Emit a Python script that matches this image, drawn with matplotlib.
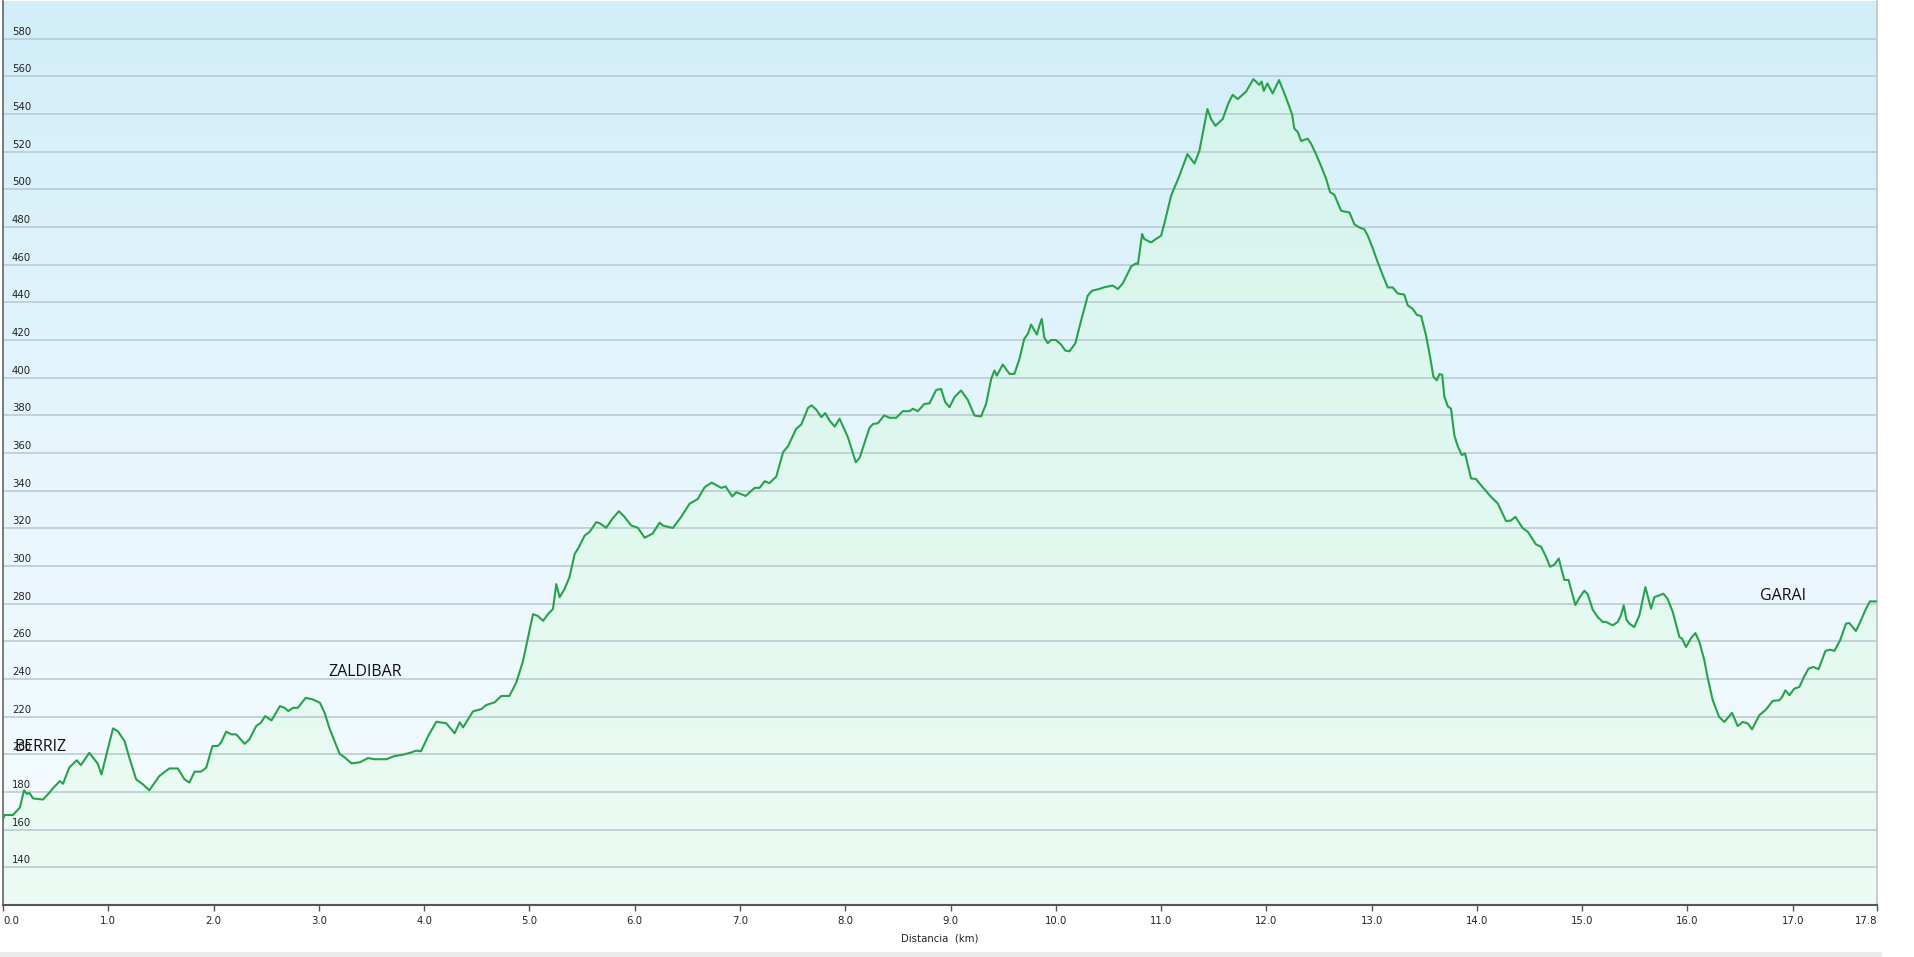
import numpy as np
import matplotlib.pyplot as plt
from matplotlib.colors import LinearSegmentedColormap
from matplotlib.patches import Polygon, Rectangle
from matplotlib.transforms import offset_copy

# perfil de elevación (km, m)
dist_km = [
    0.0, 0.015, 0.095, 0.16, 0.20, 0.225, 0.25, 0.285, 0.38, 0.44, 0.475, 0.54, 0.57,
    0.63, 0.70, 0.74, 0.82, 0.90, 0.935, 0.975, 1.045, 1.09, 1.155, 1.20, 1.265, 1.33,
    1.39, 1.485, 1.58, 1.66, 1.725, 1.77, 1.82, 1.88, 1.93, 1.99, 2.04, 2.07, 2.12,
    2.17, 2.215, 2.295, 2.34, 2.405, 2.45, 2.49, 2.55, 2.63, 2.675, 2.71, 2.755, 2.80,
    2.875, 2.945, 3.01, 3.055, 3.10, 3.135, 3.198, 3.245, 3.31, 3.39, 3.467, 3.53,
    3.64, 3.72, 3.80, 3.878, 3.925, 3.97, 4.04, 4.116, 4.21, 4.29, 4.338, 4.37, 4.464,
    4.543, 4.59, 4.67, 4.733, 4.81, 4.876, 4.94, 4.987, 5.034, 5.08, 5.13, 5.176,
    5.224, 5.255, 5.287, 5.334, 5.38, 5.43, 5.47, 5.525, 5.57, 5.635, 5.667, 5.73,
    5.787, 5.85, 5.90, 5.967, 6.03, 6.095, 6.17, 6.237, 6.27, 6.363, 6.443, 6.52,
    6.60, 6.664, 6.73, 6.823, 6.864, 6.927, 6.965, 7.054, 7.14, 7.187, 7.234, 7.28,
    7.345, 7.41, 7.455, 7.535, 7.583, 7.647, 7.68, 7.725, 7.773, 7.81, 7.85, 7.90,
    7.946, 8.025, 8.10, 8.136, 8.23, 8.264, 8.31, 8.37, 8.42, 8.484, 8.547, 8.61,
    8.643, 8.69, 8.75, 8.80, 8.864, 8.91, 8.95, 8.99, 9.037, 9.10, 9.164, 9.227,
    9.29, 9.338, 9.386, 9.417, 9.44, 9.496, 9.56, 9.607, 9.655, 9.70, 9.734, 9.765,
    9.82, 9.844, 9.867, 9.89, 9.924, 9.955, 10.0, 10.05, 10.09, 10.13, 10.186, 10.24,
    10.304, 10.345, 10.414, 10.46, 10.54, 10.59, 10.637, 10.716, 10.763, 10.78, 10.82,
    10.84, 10.905, 10.95, 11.0, 11.03, 11.095, 11.174, 11.25, 11.317, 11.364, 11.41,
    11.44, 11.475, 11.516, 11.585, 11.642, 11.68, 11.728, 11.807, 11.876, 11.933,
    11.955, 11.975, 12.01, 12.06, 12.12, 12.17, 12.22, 12.244, 12.266, 12.30, 12.33,
    12.35, 12.393, 12.425, 12.472, 12.52, 12.567, 12.605, 12.646, 12.71, 12.79,
    12.836, 12.884, 12.93, 12.963, 13.01, 13.058, 13.105, 13.153, 13.20, 13.248,
    13.31, 13.343, 13.39, 13.43, 13.47, 13.517, 13.555, 13.587, 13.618, 13.644, 13.67,
    13.69, 13.723, 13.754, 13.786, 13.818, 13.856, 13.887, 13.944, 13.99, 14.055,
    14.134, 14.197, 14.277, 14.324, 14.365, 14.435, 14.483, 14.56, 14.61, 14.656,
    14.694, 14.736, 14.777, 14.83, 14.87, 14.935, 14.973, 15.02, 15.052, 15.10,
    15.147, 15.195, 15.226, 15.29, 15.337, 15.368, 15.394, 15.42, 15.448, 15.495,
    15.543, 15.60, 15.654, 15.685, 15.733, 15.77, 15.81, 15.86, 15.923, 15.948,
    15.986, 16.03, 16.075, 16.113, 16.16, 16.19, 16.24, 16.30, 16.35, 16.423, 16.477,
    16.524, 16.572, 16.613, 16.683, 16.746, 16.81, 16.872, 16.90, 16.93, 16.968,
    17.015, 17.063, 17.11, 17.15, 17.195, 17.245, 17.31, 17.353, 17.395, 17.45,
    17.505, 17.537, 17.60, 17.648, 17.695, 17.733, 17.80,
]
elev_m = [
    165.5, 167.8, 167.8, 171.7, 180.9, 179.0, 179.6, 176.6, 176.0, 179.6, 182.0, 185.8, 184.4,
    193.0, 196.8, 194.3, 200.8, 195.0, 189.3, 198.2, 213.8, 212.3, 207.0, 198.2, 186.7, 184.0,
    180.9, 188.5, 192.5, 192.5, 186.7, 185.0, 190.8, 190.8, 192.9, 204.4, 204.4, 206.2, 212.0,
    210.6, 210.6, 205.6, 207.9, 215.0, 216.8, 220.3, 218.0, 225.6, 224.7, 223.0, 224.7, 224.7,
    230.0, 229.1, 227.4, 222.0, 214.0, 209.0, 200.2, 198.4, 195.2, 195.8, 198.0, 197.4,
    197.4, 199.1, 199.8, 201.0, 202.0, 201.6, 209.9, 217.3, 216.5, 211.2, 217.0, 214.3, 222.8,
    224.0, 226.2, 227.6, 231.0, 231.0, 238.2, 249.7, 262.0, 274.4, 273.5, 270.9, 274.4,
    277.2, 290.4, 283.4, 287.8, 294.0, 306.4, 310.0, 316.2, 318.0, 323.3, 322.7, 320.3,
    325.0, 329.1, 326.3, 321.5, 320.3, 315.0, 317.2, 323.0, 321.4, 320.2, 326.2, 333.0,
    335.6, 341.8, 344.3, 341.5, 342.2, 336.9, 339.2, 337.2, 341.5, 341.5, 345.0, 344.0,
    347.5, 360.5, 363.5, 372.9, 375.2, 384.0, 385.3, 383.0, 379.0, 381.2, 377.3, 374.0,
    378.2, 368.4, 355.1, 357.4, 373.3, 375.4, 375.8, 380.0, 378.7, 378.7, 382.2, 382.2,
    383.5, 382.2, 386.0, 386.4, 393.5, 394.0, 387.0, 384.3, 389.6, 393.2, 388.2, 379.9,
    379.4, 386.1, 399.3, 403.8, 401.1, 407.0, 402.0, 402.0, 410.0, 420.6, 423.2, 428.2,
    422.9, 427.6, 431.2, 421.4, 418.3, 420.0, 420.0, 417.6, 414.4, 414.0, 418.3, 430.3,
    443.6, 446.2, 447.1, 448.0, 448.9, 447.1, 450.1, 459.1, 460.7, 460.3, 476.3,
    473.6, 471.8, 473.6, 475.4, 481.6, 496.6, 507.2, 518.7, 513.7, 520.5, 533.7,
    542.6, 537.3, 533.7, 537.3, 546.1, 550.2, 547.9, 551.9, 558.5, 555.5,
    557.2, 552.3, 556.2, 550.9, 558.0, 551.1, 543.6, 539.8, 532.2, 530.3, 525.6,
    526.1, 526.9, 524.2, 518.6, 512.3, 505.7, 498.5, 497.1, 488.6, 487.7,
    481.4, 479.7, 478.8, 475.4, 468.8, 461.2, 454.5, 447.9, 447.9, 444.7,
    444.1, 438.4, 436.5, 433.3, 432.7, 422.3, 411.0, 400.5, 398.6, 401.9, 401.5,
    390.1, 384.8, 383.5, 369.3, 363.6, 358.9, 359.8, 346.5, 346.2, 341.8,
    336.7, 333.3, 323.8, 324.2, 326.1, 320.1, 318.2, 311.5, 310.2, 304.9,
    299.6, 300.7, 304.0, 292.6, 292.6, 279.3, 283.1, 286.9, 285.0, 276.8,
    272.9, 270.3, 270.3, 268.5, 270.3, 273.8, 279.1, 271.5, 269.4, 267.6,
    273.8, 288.8, 277.3, 283.5, 284.4, 285.3, 282.7, 275.6, 262.3, 261.4,
    257.0, 261.4, 264.4, 259.7, 250.0, 241.1, 228.7, 219.9, 217.2, 222.0, 215.0,
    217.2, 216.4, 213.3, 220.8, 223.8, 228.4, 228.7, 230.5, 234.0, 231.4,
    234.9, 235.8, 241.5, 245.5, 246.4, 245.2, 254.9, 255.6, 254.9, 260.6,
    269.4, 269.7, 265.5, 271.2, 277.3, 281.2, 281.2,
]

y_ticks = list(range(140, 600, 20))
x_ticks = list(range(0, 18)) + [17.8]
x_tick_labels = [f"{t:.1f}" for t in x_ticks]

place_names = ["BERRIZ", "ZALDIBAR", "GARAI"]
place_km = [0.11, 3.09, 16.69]
place_elev = [201.8, 241.6, 281.8]

x_min, x_max = 0, 17.8
y_min, y_max = 120, 600

W, H = 1914, 957
fig = plt.figure(figsize=(W / 100, H / 100), dpi=100)
fig.patch.set_facecolor("white")
ax = fig.add_axes([3 / W, 1 - 905 / H, (1877 - 3) / W, 904 / H])

# fondo degradado azul -> blanco
grad = np.linspace(0, 1, 256).reshape(-1, 1)
bg_cmap = LinearSegmentedColormap.from_list("bg", ["#f7fcfe", "#e6f6fc", "#d1eef9"])
ax.imshow(grad, extent=[x_min, x_max, y_min, y_max], origin="lower",
          aspect="auto", cmap=bg_cmap, zorder=0)

# relleno bajo la curva (degradado verde menta)
fill_cmap = LinearSegmentedColormap.from_list("fill", ["#ecfbf3", "#dff8ef", "#d2f3ec"])
im = ax.imshow(grad, extent=[x_min, x_max, y_min, y_max], origin="lower",
               aspect="auto", cmap=fill_cmap, zorder=1)
verts = np.column_stack([np.r_[dist_km[0], dist_km, dist_km[-1]],
                         np.r_[y_min, elev_m, y_min]])
poly = Polygon(verts, closed=True, facecolor="none", edgecolor="none",
               transform=ax.transData)
ax.add_patch(poly)
im.set_clip_path(poly)

ax.plot(dist_km, elev_m, color="#27a24b", lw=1.5, zorder=3, solid_joinstyle="round")

ax.set_xlim(x_min, x_max)
ax.set_ylim(y_min, y_max)

# rejilla horizontal
ax.set_yticks(y_ticks)
ax.yaxis.grid(True, color="#b7c8d0", linewidth=1.1)
ax.tick_params(axis="y", left=False, labelleft=False)

# etiquetas del eje Y dentro del gráfico
ylab_tr = offset_copy(ax.get_yaxis_transform(), fig=fig, x=9, y=4, units="dots")
for v in y_ticks:
    ax.text(0, v, str(v), transform=ylab_tr, ha="left", va="baseline",
            fontsize=7.3, color="#222222", zorder=4)

ax.set_xticks(x_ticks)
ax.set_xticklabels(x_tick_labels)
ax.tick_params(axis="x", length=4, width=1, color="#555555", labelsize=7.3,
               labelcolor="#222222", pad=4)
ax.get_xticklabels()[0].set_ha("left")
ax.get_xticklabels()[-1].set_ha("right")
ax.set_xlabel("Distancia  (km)", fontsize=7.3, color="#222222", labelpad=5)

ax.spines["top"].set_visible(False)
ax.spines["left"].set_color("#666666")
ax.spines["left"].set_linewidth(1.2)
ax.spines["bottom"].set_color("#555555")
ax.spines["bottom"].set_linewidth(1.5)
ax.spines["right"].set_color("#c4c4c4")
ax.spines["right"].set_linewidth(1.2)

for name, xk, yv in zip(place_names, place_km, place_elev):
    ax.text(xk, yv, name, fontsize=11.5, family="Open Sans", color="#111111",
            ha="left", va="baseline", zorder=5)

# franja gris inferior
fig.patches.append(Rectangle((0, 0), 1882 / W, 5 / H, transform=fig.transFigure,
                             facecolor="#ebebeb", edgecolor="none", zorder=0))

fig.savefig("out.png", dpi=100)
